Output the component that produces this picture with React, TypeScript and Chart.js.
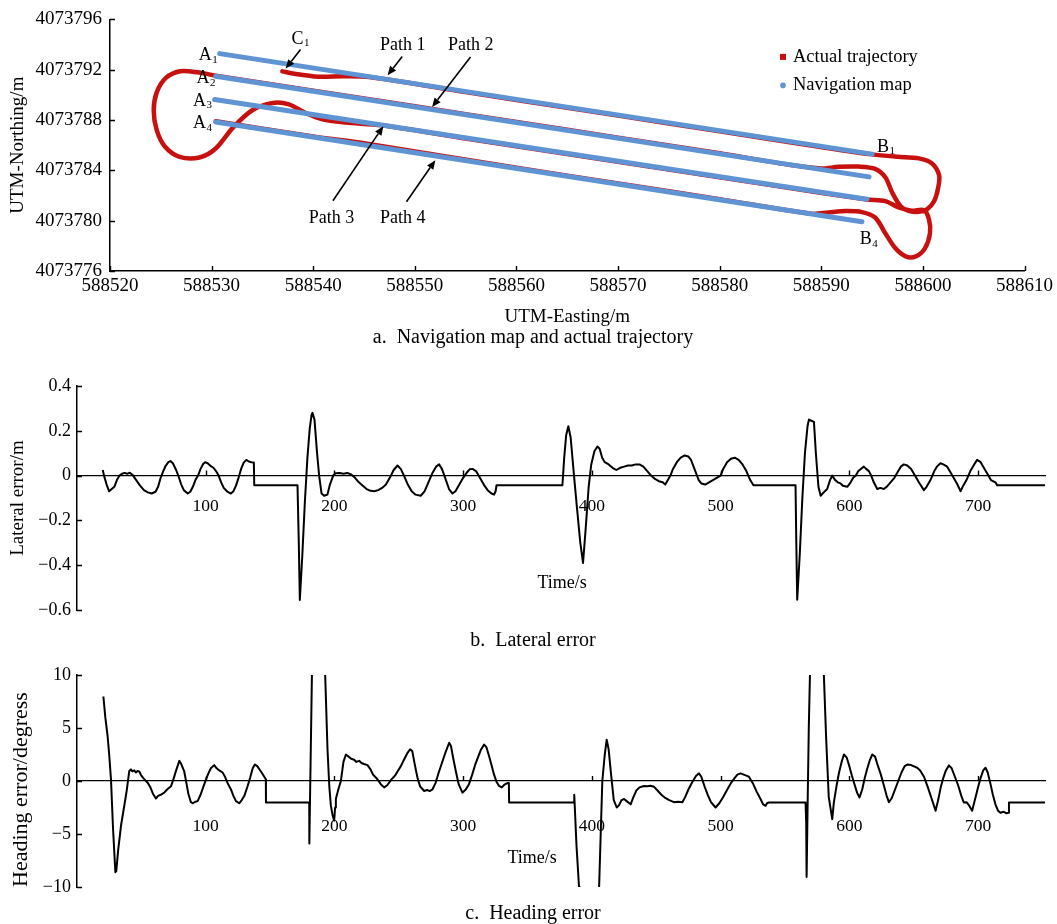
import React, { useEffect, useRef } from "react";
import { Chart, registerables } from "chart.js";

Chart.register(...registerables);

const SERIF = "'Liberation Serif', 'Times New Roman', Times, serif";
const BLUE = "#5f94d4";
const RED = "#c8100f";

// ---------------- Panel a: navigation map and actual trajectory ----------------
const eastingTicks = [588520, 588530, 588540, 588550, 588560, 588570, 588580, 588590, 588600, 588610];
const northingTicks = [4073776, 4073780, 4073784, 4073788, 4073792, 4073796];

// navigation map: four straight planned paths (start / end)
const navStartE = [588530.8, 588530.4, 588530.3, 588530.4];
const navStartN = [4073793.28, 4073791.48, 4073789.63, 4073787.85];
const navEndE = [588595.0, 588594.7, 588594.5, 588594.0];
const navEndN = [4073785.29, 4073783.48, 4073781.71, 4073779.91];

// actual trajectory [easting, northing]
const actualTrajectory: [number, number][] = [
  [588536.96, 4073791.87], [588538.0, 4073791.70], [588540.5, 4073791.45], [588543.0, 4073791.48],
  [588545.5, 4073791.42], [588555.0, 4073790.22], [588565.0, 4073788.97], [588575.0, 4073787.73],
  [588585.0, 4073786.47], [588592.0, 4073785.60], [588595.0, 4073785.27],
  [588597.5, 4073785.08], [588599.6, 4073784.95], [588600.9, 4073784.55], [588601.6, 4073783.60],
  [588601.5, 4073782.60], [588601.1, 4073781.55], [588600.4, 4073780.90], [588599.6, 4073780.70],
  [588598.6, 4073780.78], [588597.8, 4073781.15], [588597.0, 4073782.20], [588596.3, 4073783.45],
  [588595.3, 4073784.12], [588593.7, 4073784.30], [588591.7, 4073784.28], [588590.0, 4073784.15],
  [588587.0, 4073784.42],
  [588580.0, 4073785.36], [588570.0, 4073786.60], [588560.0, 4073787.85], [588550.0, 4073789.09],
  [588540.0, 4073790.34], [588530.4, 4073791.53],
  [588528.6, 4073791.80], [588526.9, 4073791.88], [588525.5, 4073791.35], [588524.6, 4073790.20],
  [588524.3, 4073788.78], [588524.6, 4073787.20], [588525.4, 4073785.90], [588526.85, 4073785.07],
  [588528.8, 4073785.02], [588530.4, 4073785.74], [588532.1, 4073787.40], [588534.0, 4073788.78],
  [588536.0, 4073789.36], [588537.6, 4073789.25], [588539.2, 4073788.58], [588540.9, 4073788.05],
  [588543.2, 4073787.80], [588546.7, 4073787.58],
  [588555.0, 4073786.53], [588565.0, 4073785.30], [588575.0, 4073784.06], [588585.0, 4073782.83],
  [588594.5, 4073781.68],
  [588596.3, 4073781.55], [588597.6, 4073781.05], [588598.9, 4073780.80], [588600.1, 4073780.85],
  [588600.6, 4073780.10], [588600.7, 4073779.00], [588600.2, 4073777.80], [588599.3, 4073777.16],
  [588598.3, 4073777.16], [588597.3, 4073777.80], [588596.3, 4073779.00], [588595.3, 4073780.25],
  [588594.0, 4073780.68], [588592.4, 4073780.76], [588590.7, 4073780.66], [588589.0, 4073780.55],
  [588580.0, 4073781.71], [588570.0, 4073782.96], [588560.0, 4073784.21], [588552.0, 4073785.25],
  [588545.0, 4073786.15], [588540.0, 4073786.70], [588530.4, 4073787.90],
];

const legendLabels = ["Actual trajectory", "Navigation map"];

// annotations (data coordinates)
const pointLabels = [
  { text: "A", sub: "1", e: 588528.74, n: 4073792.75 },
  { text: "A", sub: "2", e: 588528.51, n: 4073790.94 },
  { text: "A", sub: "3", e: 588528.17, n: 4073789.15 },
  { text: "A", sub: "4", e: 588528.17, n: 4073787.33 },
  { text: "C", sub: "1", e: 588537.87, n: 4073794.07 },
  { text: "B", sub: "1", e: 588595.49, n: 4073785.47 },
  { text: "B", sub: "4", e: 588593.79, n: 4073778.12 },
  { text: "Path 1", sub: "", e: 588546.58, n: 4073793.54 },
  { text: "Path 2", sub: "", e: 588553.26, n: 4073793.54 },
  { text: "Path 3", sub: "", e: 588539.57, n: 4073779.85 },
  { text: "Path 4", sub: "", e: 588546.58, n: 4073779.81 },
];
const arrows = [
  { fromE: 588538.75, fromN: 4073793.6, toE: 588537.29, toN: 4073792.09 },
  { fromE: 588548.76, fromN: 4073793.06, toE: 588547.32, toN: 4073791.56 },
  { fromE: 588555.48, fromN: 4073793.01, toE: 588551.7, toN: 4073789.04 },
  { fromE: 588541.94, fromN: 4073781.58, toE: 588546.9, toN: 4073787.51 },
  { fromE: 588549.18, fromN: 4073781.5, toE: 588552.02, toN: 4073784.81 },
];

// ---------------- Panel b: lateral error ----------------
const timeTicks = [100, 200, 300, 400, 500, 600, 700];
const lateralTicks = [-0.6, -0.4, -0.2, 0, 0.2, 0.4];
const lateralTickLabels = ["\u22120.6", "\u22120.4", "\u22120.2", "0", "0.2", "0.4"];
// [time s, lateral error m]
const lateralError: [number, number][] = [
  [20, 0.025], [21, 0.0], [23, -0.04], [25, -0.07], [27, -0.06], [29, -0.05], [31, -0.02], [33, 0.0],
  [35, 0.008], [37, 0.012], [39, 0.008], [41, 0.013], [43, 0.004], [46, -0.02], [49, -0.045], [52, -0.065],
  [55, -0.075], [58, -0.08], [61, -0.072], [63, -0.05], [65, -0.01], [67, 0.02], [69, 0.045], [71, 0.06],
  [72.5, 0.065], [74.5, 0.055], [77, 0.025], [79, -0.005], [81, -0.04], [83, -0.065], [86, -0.08], [88, -0.072],
  [90, -0.05], [92, -0.02], [94, 0.0], [96, 0.03], [98, 0.052], [99.5, 0.06], [101.5, 0.055], [104, 0.042],
  [106, 0.035], [108, 0.02], [110, 0.0], [112, -0.03], [114, -0.055], [116.5, -0.07], [119.5, -0.08],
  [121.5, -0.07], [123.5, -0.045], [125.5, -0.01], [127.5, 0.03], [129.5, 0.058], [131.5, 0.07],
  [133.5, 0.063], [135.5, 0.06], [137.4, 0.058], [137.7, -0.043], [171.3, -0.043],
  [172.3, -0.3], [173.1, -0.555], [175, -0.36], [177, -0.12], [179, 0.08], [180.8, 0.21], [182.2, 0.27],
  [182.9, 0.28], [184.5, 0.25], [186.5, 0.1], [188.1, 0.0], [190, -0.08], [192, -0.09], [194.5, -0.085],
  [196.5, -0.04], [199, 0.0],
  [201, 0.01], [204, 0.012], [207, 0.008], [210, 0.012], [213, 0.005], [216, -0.01], [219, -0.03],
  [222, -0.045], [225, -0.06], [228, -0.068], [231, -0.07], [234, -0.065], [237, -0.055], [240, -0.04],
  [243, -0.01], [246, 0.025], [249, 0.045], [251.5, 0.03], [254, 0.0], [257, -0.04], [260, -0.07],
  [263, -0.085], [267, -0.09], [270, -0.07], [273, -0.03], [276, 0.01], [279, 0.04], [281.3, 0.05],
  [283.5, 0.03], [286, -0.01], [289, -0.06], [291.7, -0.08], [294, -0.07], [297, -0.04], [300, -0.01],
  [303, 0.015], [305, 0.028], [307.2, 0.03], [310, 0.02], [313, -0.01], [316, -0.04], [319, -0.065],
  [322, -0.08], [324, -0.085], [325.2, -0.07], [325.9, -0.043], [377.1, -0.043],
  [378.5, 0.08], [380, 0.18], [381.7, 0.22], [383.5, 0.17], [386.1, 0.0], [388.5, -0.15], [391, -0.3],
  [393.1, -0.39], [395, -0.25], [397.5, -0.05], [399.5, 0.05], [402, 0.11], [404.3, 0.13],
  [406, 0.12], [408, 0.08], [410, 0.06], [413, 0.05], [416, 0.035], [419, 0.025], [422, 0.035], [425, 0.04],
  [428, 0.045], [431, 0.045], [434, 0.05], [437, 0.05], [440, 0.04], [443, 0.02], [446, 0.0], [449, -0.015],
  [452, -0.025], [455, -0.03], [457, -0.04], [459, -0.02], [461, 0.0], [463, 0.03], [466, 0.06], [469, 0.08],
  [472, 0.09], [475, 0.085], [477, 0.07], [479, 0.04], [481, 0.01], [483, -0.02], [485, -0.035], [488, -0.04],
  [491, -0.03], [494, -0.02], [497, -0.01], [500, 0.0], [502, 0.03], [505, 0.06], [508, 0.075], [511, 0.08],
  [514, 0.07], [517, 0.05], [520, 0.02], [523, -0.02], [525.5, -0.043], [558.2, -0.043],
  [558.8, -0.3], [559.5, -0.554], [561.5, -0.35], [563.5, -0.1], [565.5, 0.1], [567.5, 0.22], [568.6, 0.25],
  [570.5, 0.245], [572.5, 0.24], [574, 0.1], [576, -0.05], [577.7, -0.09],
  [580, -0.075], [582.8, -0.06], [585, -0.02], [586.7, 0.0], [589, -0.02], [591, -0.03], [593.2, -0.035],
  [595, -0.045], [598.4, -0.05], [601, -0.03], [603, -0.01], [605, 0.0], [607, 0.02], [609, 0.03],
  [611.3, 0.04], [613, 0.03], [615.2, 0.02], [617, 0.0], [619, -0.03], [621.7, -0.06], [624, -0.055],
  [626.8, -0.06], [629, -0.05], [632, -0.03], [635, -0.01], [638, 0.02], [640, 0.04], [642.3, 0.05],
  [645, 0.045], [648, 0.03], [651, 0.0], [654, -0.03], [657.9, -0.065], [660, -0.05], [663, -0.02],
  [666, 0.02], [668, 0.04], [670.8, 0.055], [673, 0.05], [676, 0.04], [679, 0.01], [682, -0.02], [684, -0.04],
  [686.4, -0.07], [688, -0.05], [691, -0.02], [694, 0.02], [697, 0.05], [699.3, 0.07], [702, 0.06],
  [704, 0.04], [707, 0.01], [710, -0.02], [713.5, -0.03], [714.8, -0.043], [752, -0.043],
];

// ---------------- Panel c: heading error ----------------
const headingTicks = [-10, -5, 0, 5, 10];
const headingTickLabels = ["\u221210", "\u22125", "0", "5", "10"];
// [time s, heading error degrees]
const headingError: [number, number][] = [
  [20.5, 7.97], [22, 6.0], [23.8, 4.2], [25, 2.5], [26.4, 0.15], [28, -4.5], [29.8, -8.6], [30.5, -8.5],
  [32, -6.5], [34.2, -4.2], [36.5, -2.5], [38.5, -1.0], [40.6, 0.94], [41.9, 1.1], [43, 0.9], [44.5, 1.0],
  [45.8, 0.8], [47, 0.95], [48.4, 0.9], [50, 0.5], [52, 0.2], [54.9, -0.16], [57, -0.6], [59, -1.2],
  [61.3, -1.65], [63, -1.4], [65, -1.3], [67.8, -1.1], [70, -0.8], [73, -0.5], [75, 0.2], [77, 1.0],
  [79.5, 1.9], [81, 1.6], [83.3, 0.9], [85, -0.2], [86.5, -1.2], [88.5, -2.0], [90, -2.1], [92, -1.95],
  [93.7, -1.9], [96, -1.3], [98, -0.6], [100.2, 0.16], [102, 0.7], [104, 1.2], [106.6, 1.5], [108.5, 1.2],
  [110.5, 1.0], [113.1, 0.8], [115, 0.4], [117, -0.2], [119.6, -0.8], [121.5, -1.4], [123.5, -1.9],
  [126, -2.1], [128, -1.8], [130, -1.4], [132.5, -0.5], [134.5, 0.3], [136.5, 1.2], [138.2, 1.56],
  [140, 1.4], [142.9, 0.9], [145, 0.5], [146.7, 0.16], [146.8, -2.03], [180.4, -2.03], [180.5, -5.9],
  [182.5, 10], [183, 13], [192.3, 13], [192.8, 10], [194.6, 3.0], [196, -0.5], [197.2, -2.3], [198.5, -3.2],
  [199.8, -3.75], [200.5, -2.5], [201.1, -1.7], [203, -0.8], [205, 0.0], [207, 1.8], [208.9, 2.5],
  [211, 2.3], [213, 2.1], [215.3, 2.0], [217, 1.8], [219.2, 1.9], [221, 1.7], [223, 1.6], [225.7, 1.5],
  [228, 1.1], [230, 0.6], [233.4, 0.16], [236, -0.3], [238.6, -0.6], [241, -0.4], [244, 0.1], [247, 0.5],
  [249.5, 1.0], [251.6, 1.4], [254, 2.0], [256.5, 2.6], [258.8, 3.0], [260.5, 2.8], [262.5, 1.5],
  [264.5, 0.3], [266.5, -0.5], [269.7, -0.94], [272, -0.85], [274, -0.95], [276.1, -0.8], [278.5, -0.2],
  [281, 0.8], [283.5, 1.7], [286, 2.6], [289.1, 3.6], [290.5, 3.3], [292.5, 2.0], [294.5, 0.8],
  [296.5, -0.3], [299.4, -1.1], [302, -0.8], [304.5, -0.3], [307, 0.6], [309.5, 1.6], [312, 2.4],
  [314, 3.0], [316.3, 3.44], [318, 3.2], [320, 2.4], [322, 1.5], [324, 0.6], [326, -0.1], [327.9, -0.47],
  [330, -0.6], [332, -0.35], [334.4, -0.2], [335.5, -0.2], [335.7, -2.03], [386.1, -2.03], [386.3, -1.3],
  [388, -6], [390, -10], [390.5, -13], [405.2, -13], [405.6, -10], [408.1, 0.0], [410, 2.5], [411.5, 3.9],
  [413, 3.0], [415, 0.5], [417, -1.8], [419.3, -2.5], [421, -2.3], [423, -1.8], [425, -1.7], [427, -1.9],
  [430.1, -2.2], [432, -1.6], [434.5, -0.9], [437, -0.6], [440.5, -0.47], [443, -0.5], [445.5, -0.45],
  [448.3, -0.55], [451, -0.9], [454, -1.3], [457, -1.6], [460, -1.8], [463.8, -2.0], [467, -1.95],
  [470.3, -2.0], [472.5, -1.5], [475, -0.8], [478, -0.1], [481, 0.5], [483.2, 0.72], [485, 0.4],
  [487.5, -0.5], [490, -1.3], [492.5, -2.0], [496.1, -2.5], [499, -2.1], [502, -1.5], [505.2, -0.8],
  [508, -0.2], [511, 0.3], [513, 0.6], [515.5, 0.72], [518, 0.6], [520, 0.5], [522, 0.4], [525, -0.2],
  [528, -1.0], [531, -1.7], [533, -2.2], [535, -2.34], [536, -2.1], [537.5, -2.03], [566, -2.03],
  [566.5, -4], [566.8, -9.06], [567.5, -3], [568.5, 5], [569.4, 10], [570, 13], [579.8, 13], [580.2, 10],
  [582, 4], [584, -1.5], [586.7, -3.6], [588, -2.0], [590, -0.5], [592, 0.8], [594, 1.8], [595.8, 2.5],
  [598, 2.2], [600, 1.4], [602, 0.5], [604, -0.3], [606, -1.1], [607.9, -1.56], [610, -0.8], [612, 0.3],
  [614, 1.2], [616, 2.0], [617.8, 2.5], [620, 2.3], [622, 1.5], [624.5, 0.6], [627, -0.5], [629, -1.4],
  [630.7, -2.0], [633, -1.6], [635.5, -0.8], [638, 0.0], [640.5, 0.8], [643, 1.4], [645, 1.56], [648, 1.5],
  [652.7, 1.25], [655, 1.0], [658, 0.4], [661, -0.6], [664, -1.7], [667, -2.8], [669, -1.8], [671, -0.6],
  [673, 0.3], [675, 1.0], [677.3, 1.47], [679.5, 1.2], [682, 0.4], [684.5, -0.4], [687, -1.4],
  [688.9, -2.03], [691, -2.0], [693, -2.3], [695.4, -2.8], [697.5, -1.8], [700, -0.6], [702, 0.3],
  [704, 1.0], [705.8, 1.25], [707.5, 0.8], [709.5, -0.2], [711.5, -1.3], [713.5, -2.2], [715.5, -2.8],
  [717.4, -3.0], [720, -2.9], [722, -3.05], [723.9, -3.0], [724.0, -2.03], [752, -2.03],
];

// ---------------- plugins ----------------
const inwardTicks = {
  id: "inwardTicks",
  afterDraw(chart: any, _args: any, opts: any) {
    const { ctx, chartArea } = chart;
    const xs = chart.scales.x;
    const ys = chart.scales.y;
    const len = opts.len || 5;
    const xAxisY = opts.atZero ? ys.getPixelForValue(0) : chartArea.bottom;
    ctx.save();
    ctx.strokeStyle = "#000";
    ctx.lineWidth = 1.4;
    ctx.beginPath();
    xs.ticks.forEach((t: any) => {
      const px = Math.round(xs.getPixelForValue(t.value)) + 0.5;
      ctx.moveTo(px, xAxisY);
      ctx.lineTo(px, xAxisY - len);
    });
    ys.ticks.forEach((t: any) => {
      const py = Math.round(ys.getPixelForValue(t.value)) + 0.5;
      ctx.moveTo(chartArea.left, py);
      ctx.lineTo(chartArea.left + len, py);
    });
    ctx.stroke();
    ctx.restore();
  },
};

const axisNote = {
  id: "axisNote",
  afterDraw(chart: any, _args: any, opts: any) {
    if (!opts || !opts.text) return;
    const { ctx } = chart;
    const px = chart.scales.x.getPixelForValue(opts.x);
    const py = chart.scales.y.getPixelForValue(opts.y);
    ctx.save();
    ctx.fillStyle = "#000";
    ctx.font = `${opts.size || 18}px ${SERIF}`;
    ctx.textAlign = "left";
    ctx.textBaseline = "alphabetic";
    ctx.fillText(opts.text, px, py);
    ctx.restore();
  },
};

const mapAnnotations = {
  id: "mapAnnotations",
  afterDraw(chart: any) {
    const { ctx, chartArea } = chart;
    const xs = chart.scales.x;
    const ys = chart.scales.y;
    ctx.save();
    ctx.fillStyle = "#000";
    ctx.strokeStyle = "#000";
    ctx.textAlign = "left";
    ctx.textBaseline = "alphabetic";
    for (const l of pointLabels) {
      const px = xs.getPixelForValue(l.e);
      const py = ys.getPixelForValue(l.n);
      ctx.font = `18px ${SERIF}`;
      ctx.fillText(l.text, px, py);
      if (l.sub) {
        const w = ctx.measureText(l.text).width;
        ctx.font = `11px ${SERIF}`;
        ctx.fillText(l.sub, px + w + 0.5, py + 2.5);
      }
    }
    ctx.lineWidth = 1.6;
    for (const a of arrows) {
      const x1 = xs.getPixelForValue(a.fromE);
      const y1 = ys.getPixelForValue(a.fromN);
      const x2 = xs.getPixelForValue(a.toE);
      const y2 = ys.getPixelForValue(a.toN);
      const ang = Math.atan2(y2 - y1, x2 - x1);
      const head = 9;
      const half = 3.8;
      const bx = x2 - head * Math.cos(ang);
      const by = y2 - head * Math.sin(ang);
      ctx.beginPath();
      ctx.moveTo(x1, y1);
      ctx.lineTo(bx, by);
      ctx.stroke();
      ctx.beginPath();
      ctx.moveTo(x2, y2);
      ctx.lineTo(bx - half * Math.sin(ang), by + half * Math.cos(ang));
      ctx.lineTo(bx + half * Math.sin(ang), by - half * Math.cos(ang));
      ctx.closePath();
      ctx.fill();
    }
    // legend
    const lx = chartArea.left + 673;
    const ly1 = chartArea.top + 37.5;
    const ly2 = chartArea.top + 66;
    ctx.fillStyle = RED;
    ctx.fillRect(lx - 3, ly1 - 3, 6, 6);
    ctx.fillStyle = BLUE;
    ctx.beginPath();
    ctx.arc(lx, ly2, 2.8, 0, Math.PI * 2);
    ctx.fill();
    ctx.fillStyle = "#000";
    ctx.font = `18.5px ${SERIF}`;
    ctx.textBaseline = "middle";
    ctx.fillText(legendLabels[0], lx + 10, ly1);
    ctx.fillText(legendLabels[1], lx + 10, ly2);
    ctx.restore();
  },
};

const font = (size: number) => ({ family: SERIF, size });

function makeMap(canvas: HTMLCanvasElement) {
  const navSets = navStartE.map((_, i) => ({
    label: legendLabels[1],
    data: [
      { x: navStartE[i], y: navStartN[i] },
      { x: navEndE[i], y: navEndN[i] },
    ],
    showLine: true,
    borderColor: BLUE,
    borderWidth: 5,
    pointRadius: 0,
    borderCapStyle: "round",
    order: 0,
  }));
  return new Chart(canvas, {
    type: "scatter",
    data: {
      datasets: [
        {
          label: legendLabels[0],
          data: actualTrajectory.map(([x, y]) => ({ x, y })),
          showLine: true,
          borderColor: RED,
          borderWidth: 4.5,
          pointRadius: 0,
          tension: 0.3,
          borderCapStyle: "round",
          borderJoinStyle: "round",
          order: 1,
        } as any,
        ...(navSets as any[]),
      ],
    },
    options: {
      responsive: false,
      animation: false,
      devicePixelRatio: 1,
      events: [],
      layout: { padding: { left: 0, top: 19, right: 27, bottom: 0 } },
      plugins: { legend: { display: false }, tooltip: { enabled: false }, inwardTicks: { len: 5 } } as any,
      scales: {
        x: {
          type: "linear",
          position: "bottom",
          min: eastingTicks[0],
          max: eastingTicks[eastingTicks.length - 1],
          afterBuildTicks: (s: any) => {
            s.ticks = eastingTicks.map((v) => ({ value: v }));
          },
          afterFit: (s: any) => {
            s.height = 59;
          },
          grid: { display: false, drawTicks: false },
          border: { display: true, color: "#000", width: 1.5 },
          ticks: {
            color: "#000",
            font: font(19),
            padding: 4,
            maxRotation: 0,
            autoSkip: false,
            callback: (v: any) => String(v),
          },
          title: { display: true, text: "UTM-Easting/m", color: "#000", font: font(19), padding: { top: 0, bottom: 2 } },
        },
        y: {
          type: "linear",
          min: northingTicks[0],
          max: northingTicks[northingTicks.length - 1],
          afterBuildTicks: (s: any) => {
            s.ticks = northingTicks.map((v) => ({ value: v }));
          },
          afterFit: (s: any) => {
            s.width = 110;
          },
          grid: { display: false, drawTicks: false },
          border: { display: true, color: "#000", width: 1.5 },
          ticks: { color: "#000", font: font(19), padding: 8, autoSkip: false, callback: (v: any) => String(v) },
          title: { display: true, text: "UTM-Northing/m", color: "#000", font: font(19), padding: { top: 7, bottom: 0 } },
        },
      },
    } as any,
    plugins: [inwardTicks, mapAnnotations] as any,
  });
}

function makeSeries(
  canvas: HTMLCanvasElement,
  cfg: {
    series: [number, number][];
    label: string;
    yTicks: number[];
    yLabels: string[];
    yTitle: string;
    yTitleSize: number;
    yTitlePad: number;
    yTitleAlign: string;
    padTop: number;
    padBottom: number;
    xLabelPad: number;
    noteX: number;
    noteY: number;
  }
) {
  return new Chart(canvas, {
    type: "scatter",
    data: {
      datasets: [
        {
          label: cfg.label,
          data: cfg.series.map(([x, y]) => ({ x, y })),
          showLine: true,
          borderColor: "#000",
          borderWidth: 2,
          pointRadius: 0,
          tension: 0,
          borderJoinStyle: "round",
        } as any,
      ],
    },
    options: {
      responsive: false,
      animation: false,
      devicePixelRatio: 1,
      events: [],
      layout: { padding: { left: 0, top: cfg.padTop, right: 12, bottom: cfg.padBottom } },
      plugins: {
        legend: { display: false },
        tooltip: { enabled: false },
        inwardTicks: { len: 5, atZero: true },
        axisNote: { text: "Time/s", x: cfg.noteX, y: cfg.noteY, size: 18 },
      } as any,
      scales: {
        x: {
          type: "linear",
          position: { y: 0 },
          min: 0,
          max: 752,
          afterBuildTicks: (s: any) => {
            s.ticks = timeTicks.map((v) => ({ value: v }));
          },
          grid: { display: false, drawTicks: false },
          border: { display: true, color: "#000", width: 1.3 },
          ticks: {
            color: "#000",
            font: font(17.5),
            padding: cfg.xLabelPad,
            maxRotation: 0,
            autoSkip: false,
            callback: (v: any) => String(v),
          },
        },
        y: {
          type: "linear",
          min: cfg.yTicks[0],
          max: cfg.yTicks[cfg.yTicks.length - 1],
          afterBuildTicks: (s: any) => {
            s.ticks = cfg.yTicks.map((v) => ({ value: v }));
          },
          afterFit: (s: any) => {
            s.width = 77;
          },
          grid: { display: false, drawTicks: false },
          border: { display: true, color: "#000", width: 1.5 },
          ticks: {
            color: "#000",
            font: font(18),
            padding: 6,
            autoSkip: false,
            callback: (_v: any, i: number) => cfg.yLabels[i],
          },
          title: {
            display: true,
            text: cfg.yTitle,
            color: "#000",
            align: cfg.yTitleAlign,
            font: font(cfg.yTitleSize),
            padding: { top: cfg.yTitlePad, bottom: 0 },
          },
        },
      },
    } as any,
    plugins: [inwardTicks, axisNote] as any,
  });
}

const captionStyle: React.CSSProperties = {
  position: "absolute",
  left: 0,
  width: 1066,
  textAlign: "center",
  fontFamily: SERIF,
  fontSize: 20,
  lineHeight: "20px",
  color: "#000",
  whiteSpace: "pre",
};

export default function App() {
  const refA = useRef<HTMLCanvasElement>(null);
  const refB = useRef<HTMLCanvasElement>(null);
  const refC = useRef<HTMLCanvasElement>(null);

  useEffect(() => {
    const charts = [
      makeMap(refA.current!),
      makeSeries(refB.current!, {
        series: lateralError,
        label: "Lateral error",
        yTicks: lateralTicks,
        yLabels: lateralTickLabels,
        yTitle: "Lateral error/m",
        yTitleSize: 19,
        yTitlePad: 7,
        yTitleAlign: "center",
        padTop: 26,
        padBottom: 20,
        xLabelPad: 20,
        noteX: 357.7,
        noteY: -0.502,
      }),
      makeSeries(refC.current!, {
        series: headingError,
        label: "Heading error",
        yTicks: headingTicks,
        yLabels: headingTickLabels,
        yTitle: "Heading error/degress",
        yTitleSize: 22,
        yTitlePad: 8,
        yTitleAlign: "start",
        padTop: 25,
        padBottom: 37,
        xLabelPad: 35,
        noteX: 334.4,
        noteY: -7.76,
      }),
    ];
    return () => charts.forEach((c) => c.destroy());
  }, []);

  return (
    <div style={{ position: "absolute", left: 0, top: 0, width: 1057, height: 924, background: "#fff", overflow: "hidden" }}>
      <canvas ref={refA} width={1057} height={330} style={{ position: "absolute", left: 0, top: 0 }} />
      <canvas ref={refB} width={1057} height={270} style={{ position: "absolute", left: 0, top: 360 }} />
      <canvas ref={refC} width={1057} height={274} style={{ position: "absolute", left: 0, top: 650 }} />
      <div style={{ ...captionStyle, top: 326 }}>{"a.\u00a0 Navigation map and actual trajectory"}</div>
      <div style={{ ...captionStyle, top: 629 }}>{"b.\u00a0 Lateral error"}</div>
      <div style={{ ...captionStyle, top: 902 }}>{"c.\u00a0 Heading error"}</div>
    </div>
  );
}
